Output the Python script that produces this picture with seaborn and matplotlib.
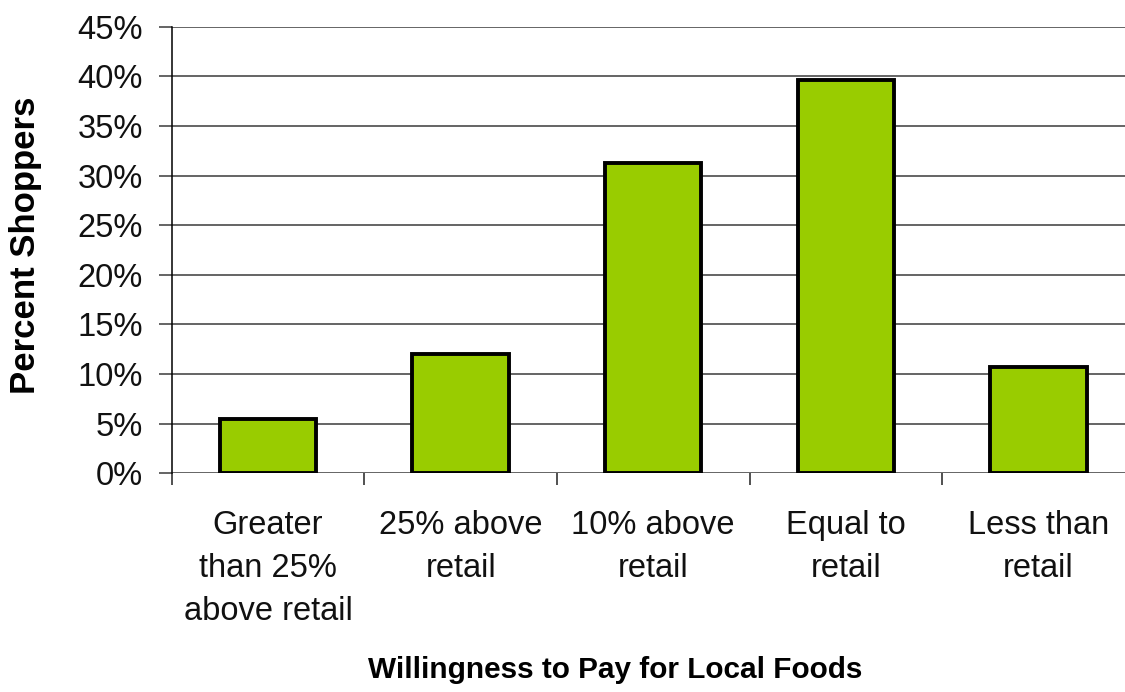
import matplotlib
matplotlib.use("Agg")
import matplotlib.pyplot as plt
import seaborn as sns
import pandas as pd
from matplotlib.ticker import FuncFormatter, FixedLocator

categories = ["Greater\nthan 25%\nabove retail", "25% above\nretail", "10% above\nretail",
              "Equal to\nretail", "Less than\nretail"]
percent_shoppers = [5.5, 12.0, 31.3, 39.6, 10.7]
y_ticks = [0, 5, 10, 15, 20, 25, 30, 35, 40, 45]
x_title = "Willingness to Pay for Local Foods"
y_title = "Percent Shoppers"

df = pd.DataFrame({"cat": categories, "pct": percent_shoppers})

sns.set_theme(style="white")
plt.rcParams["font.family"] = ["Liberation Sans", "DejaVu Sans"]

fig = plt.figure(figsize=(11.25, 6.92), dpi=100)
ax = fig.add_axes([171.7 / 1125, (692 - 473.3) / 692, 963 / 1125, 446.6 / 692])

sns.barplot(data=df, x="cat", y="pct", color="#99CC00", edgecolor="black",
            linewidth=2.8, width=0.5, saturation=1, ax=ax, zorder=3)

ax.set_ylim(0, 45)
ax.set_xlim(-0.5, 4.5)
ax.set_yticks(y_ticks)
ax.yaxis.set_major_formatter(FuncFormatter(lambda v, p: f"{v:.0f}%"))
ax.grid(axis="y", color="#3a3a3a", linewidth=1.1, zorder=0)
ax.grid(axis="x", visible=False)
ax.set_axisbelow(True)

for s in ["top", "right", "bottom"]:
    ax.spines[s].set_visible(False)
ax.spines["left"].set_color("black")
ax.spines["left"].set_linewidth(1.1)
ax.spines["left"].set_zorder(4)

ax.tick_params(axis="y", which="major", direction="out", length=9.7, width=1.1,
               color="#3a3a3a", left=True, pad=11, labelsize=23.5, labelcolor="#111111")
ax.tick_params(axis="x", which="major", length=0, pad=26.5, labelsize=23.5, labelcolor="#111111")
ax.xaxis.set_minor_locator(FixedLocator([-0.5, 0.5, 1.5, 2.5, 3.5, 4.5]))
ax.tick_params(axis="x", which="minor", direction="out", length=8.4, width=1.1,
               color="#222222", bottom=True)
for lbl in ax.get_xticklabels():
    lbl.set_multialignment("center")
    lbl.set_linespacing(1.5)

ax.set_xlabel(x_title, fontsize=21.4, fontweight="bold", color="black")
ax.xaxis.set_label_coords((615 - 171.7) / 963, (473.3 - 655.7) / 446.6)
ax.set_ylabel(y_title, fontsize=25, fontweight="bold", color="black")
ax.yaxis.set_label_coords((42 - 171.7) / 963, (473.3 - 245) / 446.6)

fig.savefig("out.png", dpi=100)
